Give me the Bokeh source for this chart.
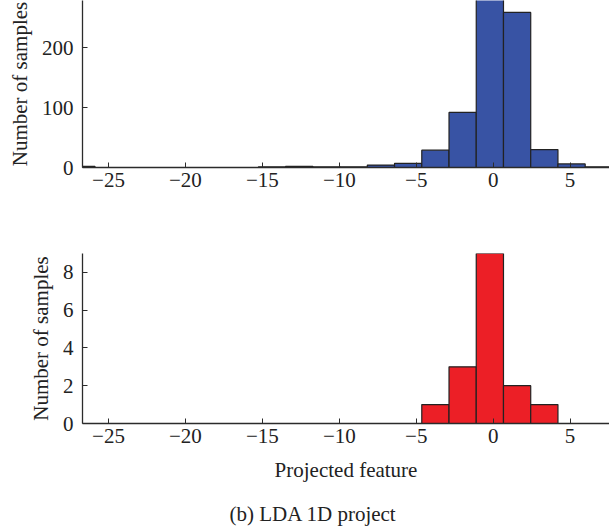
from bokeh.plotting import figure
from bokeh.layouts import column
from bokeh.models import FixedTicker
from bokeh.core.properties import value
from bokeh.embed import file_html
from bokeh.resources import INLINE

# ---- data ----
bin_start = -27.65
bin_width = 1.77
top_counts = [2, 0, 0, 0, 0, 0, 0, 1, 2, 1, 1, 4, 7, 29, 92, 310, 259, 30, 6, 1]
bottom_counts = [0, 0, 0, 0, 0, 0, 0, 0, 0, 0, 0, 0, 0, 1, 3, 9, 2, 1, 0, 0]
x_ticks = [-25, -20, -15, -10, -5, 0, 5]
top_y_ticks = [0, 100, 200]
bottom_y_ticks = [0, 2, 4, 6, 8]
caption = "(b)  LDA 1D project"

FONT = "Liberation Serif"
AXIS_COL = "#2b2b2b"
FS = "21px"


def bins(counts):
    lefts, rights, tops = [], [], []
    for i, c in enumerate(counts):
        if c > 0:
            lefts.append(bin_start + i * bin_width)
            rights.append(bin_start + (i + 1) * bin_width)
            tops.append(c)
    return lefts, rights, tops


def style(p, yticks):
    p.grid.visible = False
    p.outline_line_color = None
    p.background_fill_color = "white"
    p.border_fill_color = "white"
    for ax in (p.xaxis[0], p.yaxis[0]):
        ax.axis_line_color = AXIS_COL
        ax.axis_line_width = 1.3
        ax.major_tick_line_color = AXIS_COL
        ax.major_tick_in = 5
        ax.major_tick_out = 0
        ax.minor_tick_line_color = None
        ax.major_label_text_font = FONT
        ax.major_label_text_font_size = FS
        ax.major_label_text_color = "#222222"
        ax.axis_label_text_font = FONT
        ax.axis_label_text_font_size = FS
        ax.axis_label_text_font_style = "normal"
        ax.axis_label_text_color = "#222222"
    p.xaxis[0].ticker = FixedTicker(ticks=x_ticks)
    p.xaxis[0].major_label_overrides = {t: str(t).replace("-", "\u2212") for t in x_ticks}
    p.xaxis[0].major_label_standoff = 5
    p.yaxis[0].ticker = FixedTicker(ticks=yticks)
    p.yaxis[0].major_label_standoff = 9
    p.yaxis[0].axis_label = "Number of samples"
    p.yaxis[0].axis_label_standoff = 7


top = figure(width=609, height=253, x_range=(-26.69, 7.56), y_range=(0, 279),
             output_backend="svg", toolbar_location=None,
             min_border_top=0, min_border_right=0, min_border_left=82, min_border_bottom=86)
l, r, t = bins(top_counts)
top.quad(left=l, right=r, bottom=0, top=t, fill_color="#3853a4", line_color="#222222", line_width=1.2)
style(top, top_y_ticks)

bottom = figure(width=609, height=242, x_range=(-26.69, 7.56), y_range=(0, 9),
                output_backend="svg", toolbar_location=None,
                min_border_top=0, min_border_right=0, min_border_left=82, min_border_bottom=72)
l, r, t = bins(bottom_counts)
bottom.quad(left=l, right=r, bottom=0, top=t, fill_color="#ec1f26", line_color="#222222", line_width=1.2)
style(bottom, bottom_y_ticks)
bottom.xaxis[0].axis_label = "Projected feature"
bottom.xaxis[0].axis_label_standoff = 12

cap = figure(width=609, height=32, x_range=(82, 609), y_range=(0, 32),
             output_backend="svg", toolbar_location=None,
             min_border=0, x_axis_location=None, y_axis_location=None)
cap.grid.visible = False
cap.outline_line_color = None
cap.text(x=[229], y=[14], text=[caption], text_align="left", text_baseline="middle",
         text_font=value(FONT), text_font_size=FS, text_color="#222222")

layout = column(top, bottom, cap, spacing=0)
open("out.html", "w").write(file_html(layout, INLINE))
